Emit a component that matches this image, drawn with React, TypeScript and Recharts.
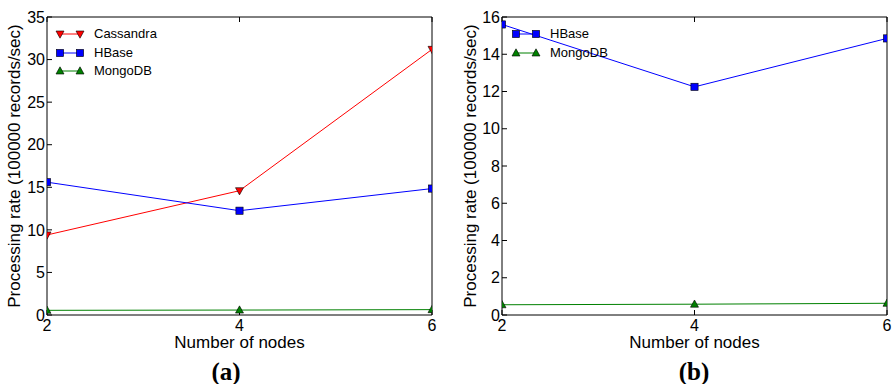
import { LineChart, Line, XAxis, YAxis, Legend, Label } from "recharts";

const nodes = [2, 4, 6];
const cassandraRate = [9.4, 14.6, 31.2];
const hbaseRate = [15.6, 12.25, 14.85];
const mongoRate = [0.55, 0.58, 0.63];

const ticksA = [0, 5, 10, 15, 20, 25, 30, 35];
const ticksB = [0, 2, 4, 6, 8, 10, 12, 14, 16];
const xTicks = [2, 4, 6];

const FONT = '"Liberation Sans", Arial, sans-serif';

const dataA = nodes.map((n, i) => ({ n, cassandra: cassandraRate[i], hbase: hbaseRate[i], mongo: mongoRate[i] }));
const dataB = nodes.map((n, i) => ({ n, hbase: hbaseRate[i], mongo: mongoRate[i] }));

type Shape = "down" | "square" | "up";

function marker(shape: Shape, cx: number, cy: number, fill: string, key?: string) {
  const s = 3.6;
  if (shape === "square") {
    return <rect key={key} x={cx - s} y={cy - s} width={s * 2} height={s * 2} fill={fill} stroke="#000" strokeWidth={0.6} />;
  }
  const pts = shape === "down"
    ? `${cx - s - 0.4},${cy - s + 0.6} ${cx + s + 0.4},${cy - s + 0.6} ${cx},${cy + s + 0.6}`
    : `${cx - s - 0.4},${cy + s - 0.6} ${cx + s + 0.4},${cy + s - 0.6} ${cx},${cy - s - 0.6}`;
  return <polygon key={key} points={pts} fill={fill} stroke="#000" strokeWidth={0.6} />;
}

const dotFn = (shape: Shape, fill: string) => (p: any) => marker(shape, p.cx, p.cy, fill, `${shape}-${p.index}`);

const seriesInfo: Record<string, { name: string; color: string; shape: Shape }> = {
  cassandra: { name: "Cassandra", color: "#ff0000", shape: "down" },
  hbase: { name: "HBase", color: "#0000ff", shape: "square" },
  mongo: { name: "MongoDB", color: "#008000", shape: "up" },
};

function makeLegend(keys: string[]) {
  return () => (
    <div style={{ fontFamily: FONT, fontSize: 13, color: "#000" }}>
      {keys.map((k) => {
        const s = seriesInfo[k];
        return (
          <div key={k} style={{ display: "flex", alignItems: "center", height: 18.5 }}>
            <svg width={30} height={14} style={{ overflow: "visible" }}>
              <line x1={4} y1={7} x2={24} y2={7} stroke={s.color} strokeWidth={1} />
              {marker(s.shape, 4, 7, s.color)}
              {marker(s.shape, 24, 7, s.color)}
            </svg>
            <span style={{ marginLeft: 8, lineHeight: "18px" }}>{s.name}</span>
          </div>
        );
      })}
    </div>
  );
}

const tickStyle = { fontFamily: FONT, fontSize: 16, fill: "#000" };
const axisLine = { stroke: "#000", strokeWidth: 1 };
const tickLine = { stroke: "#000", strokeWidth: 1 };

function Panel({ data, keys, yTicks, yMax, yWidth, yLabelX, right, legendLeft }: any) {
  return (
    <LineChart width={yWidth + 385 + right} height={384} data={data} margin={{ top: 16, right: right - 1, bottom: 48, left: 0 }}>
      <XAxis dataKey="n" type="number" domain={[2, 6]} ticks={xTicks} interval={0} allowDataOverflow
        height={21} tickSize={-5} tickMargin={10} tick={tickStyle} axisLine={axisLine} tickLine={tickLine}>
        <Label value="Number of nodes" position="bottom" offset={0}
          style={{ fontFamily: FONT, fontSize: 17, fill: "#000" }} />
      </XAxis>
      <XAxis xAxisId="top" orientation="top" dataKey="n" type="number" domain={[2, 6]} ticks={xTicks} interval={0}
        height={1} tickSize={-5} tickFormatter={() => ""} axisLine={axisLine} tickLine={tickLine} />
      <YAxis type="number" domain={[0, yMax]} ticks={yTicks} interval={0} width={yWidth}
        tickSize={-5} tickMargin={7} tick={tickStyle} axisLine={axisLine} tickLine={tickLine}>
        <Label value="Processing rate (100000 records/sec)" angle={-90} position="insideLeft" offset={yLabelX}
          style={{ fontFamily: FONT, fontSize: 17, fill: "#000", textAnchor: "middle" }} />
      </YAxis>
      <YAxis yAxisId="right" orientation="right" type="number" domain={[0, yMax]} ticks={yTicks} interval={0}
        width={1} tickSize={-5} tickFormatter={() => ""} axisLine={axisLine} tickLine={tickLine} />
      <Legend layout="vertical" align="center" verticalAlign="middle" content={makeLegend(keys)}
        wrapperStyle={{ left: legendLeft, top: 25, width: "auto" }} />
      {keys.map((k: string) => (
        <Line key={k} dataKey={k} stroke={seriesInfo[k].color} strokeWidth={1} isAnimationActive={false}
          dot={dotFn(seriesInfo[k].shape, seriesInfo[k].color)} activeDot={false} />
      ))}
    </LineChart>
  );
}

const captionStyle: any = {
  position: "absolute", top: 359, width: 100, textAlign: "center",
  fontFamily: '"Liberation Serif", "Times New Roman", serif', fontWeight: "bold", fontSize: 25, lineHeight: "25px",
};

export default function App() {
  return (
    <div style={{ position: "absolute", left: 0, top: 0, width: 893, height: 384, background: "#fff", overflow: "hidden" }}>
      <div style={{ position: "absolute", left: 0, top: 0 }}>
        <Panel data={dataA} keys={["cassandra", "hbase", "mongo"]} yTicks={ticksA} yMax={35}
          yWidth={47} yLabelX={14} right={13} legendLeft={56} />
      </div>
      <div style={{ position: "absolute", left: 445, top: 0 }}>
        <Panel data={dataB} keys={["hbase", "mongo"]} yTicks={ticksB} yMax={16}
          yWidth={57} yLabelX={25} right={6} legendLeft={67} />
      </div>
      <div style={{ ...captionStyle, left: 176 }}>(a)</div>
      <div style={{ ...captionStyle, left: 644 }}>(b)</div>
    </div>
  );
}
